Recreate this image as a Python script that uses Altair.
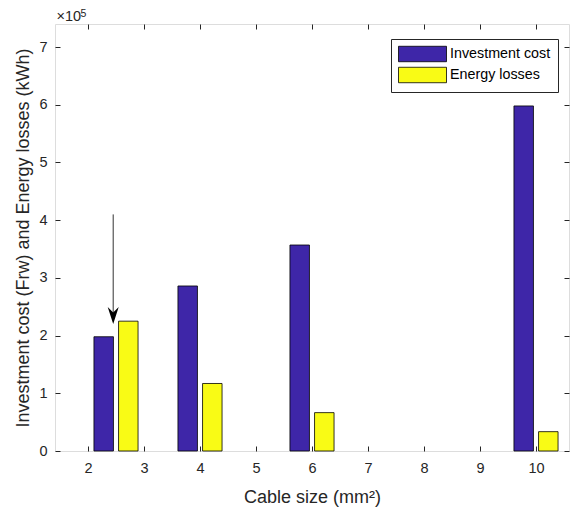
import altair as alt
import pandas as pd

# ---- data ----
cable_sizes = [2.5, 4, 6, 10]
investment_cost = [1.98e5, 2.86e5, 3.57e5, 5.98e5]
energy_losses = [2.25e5, 1.17e5, 0.665e5, 0.335e5]
series_names = ["Investment cost", "Energy losses"]
series_colors = ["#3E26A8", "#F9FB15"]
x_ticks = [2, 3, 4, 5, 6, 7, 8, 9, 10]
y_ticks = [0, 1e5, 2e5, 3e5, 4e5, 5e5, 6e5, 7e5]
arrow_x = [2.45]
arrow_y_start = [4.1e5]
arrow_y_tip = [2.2e5]
arrow_y_neck = [2.38e5]
exponent_base = ["×10"]
exponent_power = ["5"]

FONT = "Liberation Sans"
TXT = "#262626"

rows = []
for s, v in zip(cable_sizes, investment_cost):
    rows.append({"size": s, "series": series_names[0], "value": v})
for s, v in zip(cable_sizes, energy_losses):
    rows.append({"size": s, "series": series_names[1], "value": v})
df = pd.DataFrame(rows)

arrow_df = pd.DataFrame({"ax": arrow_x, "ay": arrow_y_start, "ay2": arrow_y_neck, "tip": arrow_y_tip})
base_df = pd.DataFrame({"t": exponent_base})
power_df = pd.DataFrame({"t": exponent_power})

xscale = alt.Scale(domain=[1.5, 10.5], nice=False, zero=False)
yscale = alt.Scale(domain=[0, 7.4e5], nice=False)

color = alt.Color(
    "series:N",
    scale=alt.Scale(domain=series_names, range=series_colors),
    legend=alt.Legend(
        title=None, orient="none", legendX=336, legendY=15,
        symbolType="M-3.2,-1.03H3.2V1.03H-3.2Z", symbolSize=225,
        symbolOffset=16.5, labelOffset=19.5,
        symbolStrokeColor="black", symbolStrokeWidth=0.8, symbolOpacity=1,
        labelFont=FONT, labelFontSize=14.3, labelColor="black",
        strokeColor=TXT, fillColor="white", padding=7, rowPadding=1,
        cornerRadius=0,
    ),
)

axis_common = dict(
    domain=False, grid=False, tickColor=TXT, tickWidth=1, tickSize=5, offset=-5,
    labelFont=FONT, labelColor=TXT, titleFont=FONT, titleColor=TXT,
    titleFontWeight="normal",
)

x_bottom = alt.Axis(
    orient="bottom", values=x_ticks, format="d", title="Cable size (mm²)",
    labelFontSize=14.5, labelPadding=10, titleFontSize=18, titlePadding=14,
    **axis_common,
)
y_left = alt.Axis(
    orient="left", values=y_ticks, labelExpr="format(datum.value / 100000, 'd')",
    title="Investment cost (Frw) and Energy losses (kWh)",
    labelFontSize=14.5, labelPadding=8, titleFontSize=18, titlePadding=6,
    **axis_common,
)
x_top = alt.Axis(orient="top", values=x_ticks, labels=False, title=None, **axis_common)
y_right = alt.Axis(orient="right", values=y_ticks, labels=False, title=None, **axis_common)

bars_inv = (
    alt.Chart(df)
    .transform_filter(alt.datum.series == series_names[0])
    .mark_bar(orient="vertical", size=19.5, xOffset=-12.3, stroke="black", strokeWidth=0.8, opacity=1)
    .encode(
        x=alt.X("size:Q", scale=xscale, axis=x_bottom),
        y=alt.Y("value:Q", scale=yscale, axis=y_left),
        color=color,
    )
)
bars_loss = (
    alt.Chart(df)
    .transform_filter(alt.datum.series == series_names[1])
    .mark_bar(orient="vertical", size=19.5, xOffset=12.3, stroke="black", strokeWidth=0.8, opacity=1)
    .encode(
        x=alt.X("size:Q", scale=xscale, axis=None),
        y=alt.Y("value:Q", scale=yscale, axis=None),
        color=color,
    )
)

arrow_line = (
    alt.Chart(arrow_df)
    .mark_rule(color="#333333", strokeWidth=1)
    .encode(
        x=alt.X("ax:Q", scale=xscale, axis=x_top),
        y=alt.Y("ay:Q", scale=yscale, axis=y_right),
        y2="ay2:Q",
    )
)
arrow_head = (
    alt.Chart(arrow_df)
    .mark_point(shape="M0,0L-0.5,-1.55L0,-1.05L0.5,-1.55Z", size=484, filled=True,
                color="black", opacity=1, strokeWidth=0)
    .encode(
        x=alt.X("ax:Q", scale=xscale, axis=None),
        y=alt.Y("tip:Q", scale=yscale, axis=None),
    )
)

exp_base = (
    alt.Chart(base_df)
    .mark_text(align="left", baseline="alphabetic", font=FONT, fontSize=14.5, color=TXT)
    .encode(text="t:N", x=alt.value(1.5), y=alt.value(-3))
)
exp_power = (
    alt.Chart(power_df)
    .mark_text(align="left", baseline="alphabetic", font=FONT, fontSize=10.5, color=TXT)
    .encode(text="t:N", x=alt.value(25.5), y=alt.value(-7.5))
)

chart = (
    alt.layer(bars_inv, bars_loss, arrow_line, arrow_head, exp_base, exp_power)
    .resolve_axis(x="independent", y="independent")
    .properties(
        width=514, height=427,
        autosize=alt.AutoSizeParams(type="none"),
        padding={"left": 47, "top": 16, "right": 1, "bottom": 58},
    )
    .configure_view(stroke=TXT, strokeWidth=1)
    .configure(background="white")
)

chart.save("out.html", embed_options={"renderer": "svg", "actions": False})
